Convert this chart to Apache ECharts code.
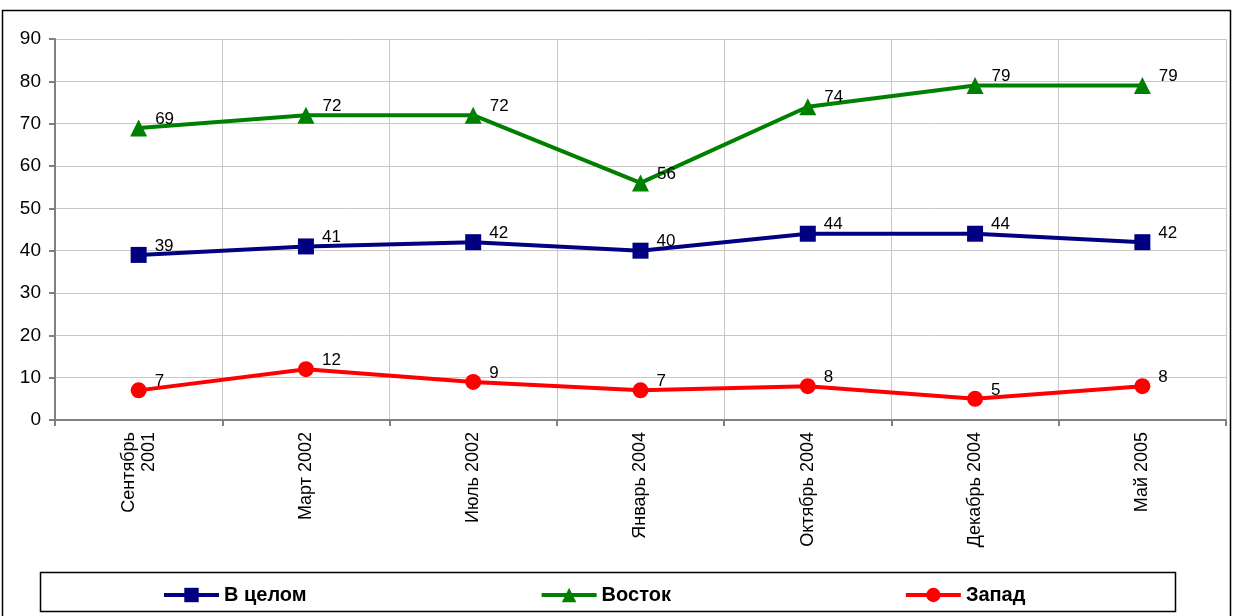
<!DOCTYPE html>
<html><head><meta charset="utf-8">
<script src="https://cdn.jsdelivr.net/npm/echarts@6/dist/echarts.min.js"></script>
<style>html,body{margin:0;padding:0;background:#fff}#c{width:1233px;height:616px}</style>
</head><body><div id="c"></div>
<script>
const categories = ['Сентябрь\n2001','Март 2002','Июль 2002','Январь 2004','Октябрь 2004','Декабрь 2004','Май 2005'];
const seriesNames = ['В целом','Восток','Запад'];
const overall = [39,41,42,40,44,44,42];
const east = [69,72,72,56,74,79,79];
const west = [7,12,9,7,8,5,8];
const yTicks = {min:0, max:90, interval:10};

const chart = echarts.init(document.getElementById('c'), null, {renderer:'canvas'});
const font = 'Liberation Sans, Arial, sans-serif';
const lbl = {show:true, position:'right', offset:[3,-9], color:'#000', fontSize:17, fontFamily:font};
function mk(name, data, color, symbol, size){
  return {name, type:'line', data, symbol, symbolSize:size, showAllSymbol:true,
    lineStyle:{color, width:4}, itemStyle:{color}, label:lbl, animation:false};
}
chart.setOption({
  animation:false,
  textStyle:{fontFamily:font},
  grid:{left:55, right:7, top:39, bottom:196, containLabel:false},
  xAxis:{type:'category', data:categories, boundaryGap:true,
    axisLine:{lineStyle:{color:'#808080', width:2}},
    axisTick:{show:true, length:6, lineStyle:{color:'#808080', width:2}},
    splitLine:{show:true, lineStyle:{color:'#c8c8c8', width:1}},
    axisLabel:{rotate:90, color:'#000', fontSize:18, fontFamily:font, margin:12, interval:0, lineHeight:20}},
  yAxis:{type:'value', min:yTicks.min, max:yTicks.max, interval:yTicks.interval,
    axisLine:{show:true, lineStyle:{color:'#808080', width:2}},
    axisTick:{show:true, length:6, lineStyle:{color:'#808080', width:2}},
    splitLine:{show:true, lineStyle:{color:'#c8c8c8', width:1}},
    axisLabel:{color:'#000', fontSize:19, fontFamily:font, margin:14}},
  legend:{data:seriesNames, left:157, top:580, itemWidth:55, itemHeight:18, itemGap:233,
    lineStyle:{width:4},
    textStyle:{fontSize:20, fontWeight:'bold', color:'#000', fontFamily:font}},
  graphic:[
    {type:'rect', shape:{x:2.5, y:10.5, width:1228, height:620}, style:{fill:'none', stroke:'#000', lineWidth:1.5}, silent:true},
    {type:'rect', shape:{x:40.5, y:572.5, width:1135, height:39}, style:{fill:'none', stroke:'#000', lineWidth:1.5}, silent:true}
  ],
  series:[
    mk(seriesNames[0], overall, '#000080', 'rect', 16),
    mk(seriesNames[1], east, '#008000', 'triangle', 17),
    mk(seriesNames[2], west, '#ff0000', 'circle', 16)
  ]
});
</script></body></html>
